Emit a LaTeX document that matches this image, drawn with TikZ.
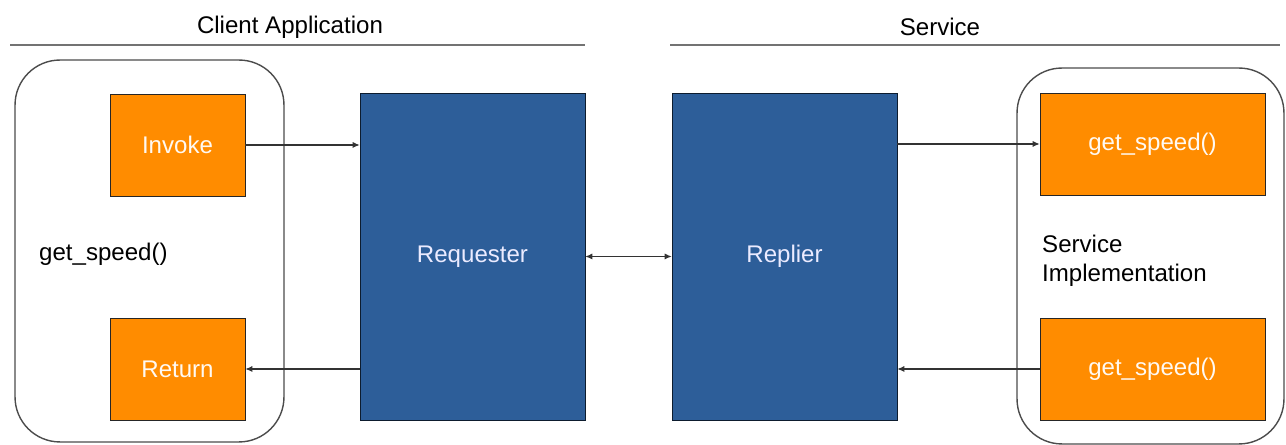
\documentclass[tikz,border=0pt]{standalone}
\usepackage{fontspec}
\setmainfont{Liberation Sans}
\usetikzlibrary{arrows.meta}
\definecolor{boxorange}{RGB}{255,140,0}
\definecolor{boxblue}{RGB}{45,94,153}
\tikzstyle{every picture}+=[remember picture]

\begin{document}
\begin{tikzpicture}[x=0.02cm,y=-0.02cm,
    font=\fontsize{13.7}{16.5}\selectfont,
    call/.style={draw=black!85,fill=boxorange,text=white!95!orange,
        minimum width=2.7cm,minimum height=2.04cm,inner sep=0pt},
    impl/.style={call,minimum width=4.5cm},
    endpoint/.style={draw=black!70!boxblue,fill=boxblue,text=white!92!blue,
        minimum width=4.5cm,minimum height=6.54cm,inner sep=0pt},
    frame/.style={draw=black!70,line width=0.8pt,rounded corners=0.9cm,inner sep=0pt},
    msg/.style={draw=black!80,line width=0.6pt,-{Latex[length=4pt,width=3.5pt]}}]
    \useasboundingbox (0,0) rectangle (1286,445);

    % headers
    \node (client) at (290,27) {Client Application};
    \node (service) at (940,27) {Service};
    \draw[black!55,line width=0.8pt] (10,45) -- (585,45);
    \draw[black!55,line width=0.8pt] (670,45) -- (1280,45);

    % client side
    \node[frame,minimum width=5.38cm,minimum height=7.64cm] (clientframe) at (149.5,251) {};
    \node[call] (invoke) at (177.5,145) {Invoke};
    \node[call] (return) at (177.5,369) {Return};
    \node[anchor=west] (clientcall) at (33,254) {get\_speed()};

    % middleware
    \node[endpoint] (requester) at (472.5,256.5) {Requester};
    \node[endpoint] (replier) at (784.5,256.5) {Replier};

    % service side
    \node[frame,minimum width=5.34cm,minimum height=7.52cm] (serviceframe) at (1150.5,256) {};
    \node[impl] (gstop) at (1152.5,144) {get\_speed()};
    \node[impl] (gsbot) at (1152.5,369) {get\_speed()};
    \node[anchor=west,align=left] (impllabel) at (1036,261) {Service\\Implementation};

    % messages
    \draw[msg] (invoke.east) -- (invoke.east -| requester.west);
    \draw[msg] (requester.west |- return.east) -- (return.east);
    \draw[msg,{Latex[length=4pt,width=3.5pt]}-{Latex[length=4pt,width=3.5pt]}] (requester) -- (replier);
    \draw[msg] (replier.east |- gstop.west) -- (gstop.west);
    \draw[msg] (gsbot.west) -- (gsbot.west -| replier.east);
\end{tikzpicture}
\end{document}
